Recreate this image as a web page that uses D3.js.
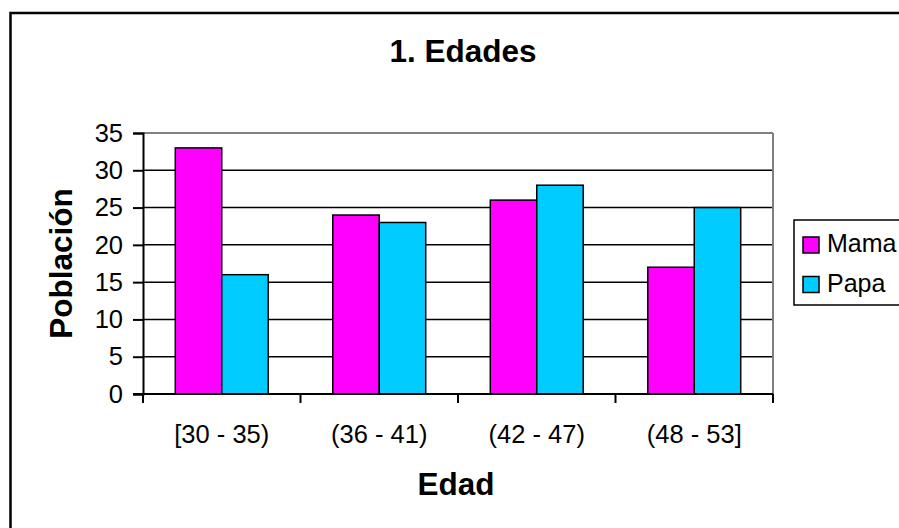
<!DOCTYPE html>
<html>
<head>
<meta charset="utf-8">
<script src="https://cdn.jsdelivr.net/npm/d3@7"></script>
<style>
  html, body { margin: 0; padding: 0; background: #fff; }
  svg { display: block; font-family: "Liberation Sans", Arial, sans-serif; }
</style>
</head>
<body>
<svg id="chart" width="899" height="528"></svg>
<script>
const categories = ["[30 - 35)", "(36 - 41)", "(42 - 47)", "(48 - 53]"];
const seriesNames = ["Mama", "Papa"];
const mamaValues = [33, 24, 26, 17];
const papaValues = [16, 23, 28, 25];
const yTicks = [0, 5, 10, 15, 20, 25, 30, 35];
const colors = ["#FF00FF", "#00CCFF"];
const titleText = "1. Edades";
const xTitle = "Edad";
const yTitle = "Población";

const svg = d3.select("#chart");
const W = 899, H = 528;
const plot = { left: 143, right: 773, top: 133, bottom: 394 };

// outer chart border
svg.append("rect").attr("x", 10.5).attr("y", 13).attr("width", W + 20).attr("height", H + 20)
  .attr("fill", "#fff").attr("stroke", "#000").attr("stroke-width", 2.5);

const x0 = d3.scaleBand().domain(categories).range([plot.left, plot.right]).padding(0);
const step = x0.bandwidth();
const gap = step * 0.205;
const x1 = d3.scaleBand().domain(seriesNames).range([gap, step - gap]).padding(0);
const y = d3.scaleLinear().domain([0, 35]).range([plot.bottom, plot.top]);

// gridlines
svg.append("g").selectAll("line").data(yTicks.filter(t => t > 0 && t < 35)).join("line")
  .attr("x1", plot.left).attr("x2", plot.right)
  .attr("y1", d => y(d)).attr("y2", d => y(d))
  .attr("stroke", "#000").attr("stroke-width", 1.5);

// plot area border (top and right gray)
svg.append("line").attr("x1", plot.left).attr("x2", plot.right).attr("y1", y(35)).attr("y2", y(35))
  .attr("stroke", "#808080").attr("stroke-width", 2);
svg.append("line").attr("x1", plot.right).attr("x2", plot.right).attr("y1", plot.top).attr("y2", plot.bottom)
  .attr("stroke", "#808080").attr("stroke-width", 2);

// bars
const data = categories.map((c, i) => ({ cat: c, vals: [mamaValues[i], papaValues[i]] }));
const groups = svg.append("g").selectAll("g").data(data).join("g")
  .attr("transform", d => `translate(${x0(d.cat)},0)`);
groups.selectAll("rect").data(d => d.vals.map((v, j) => ({ s: seriesNames[j], v, j }))).join("rect")
  .attr("x", d => x1(d.s)).attr("width", x1.bandwidth())
  .attr("y", d => y(d.v)).attr("height", d => y(0) - y(d.v))
  .attr("fill", d => colors[d.j]).attr("stroke", "#000").attr("stroke-width", 1.5);

// y axis
const yAxis = d3.axisLeft(y).tickValues(yTicks).tickSize(10).tickPadding(10).tickFormat(d3.format("d"));
const gy = svg.append("g").attr("transform", `translate(${plot.left},0)`).call(yAxis);
gy.select(".domain").attr("stroke", "#000").attr("stroke-width", 2);
gy.selectAll(".tick line").attr("stroke", "#000").attr("stroke-width", 2);
gy.selectAll(".tick text").attr("font-size", 25.5).attr("fill", "#000")
  .attr("font-family", "'Liberation Sans', Arial, sans-serif");

// x axis
const xAxis = d3.axisBottom(x0).tickSize(0).tickPadding(31);
const gx = svg.append("g").attr("transform", `translate(0,${plot.bottom})`).call(xAxis);
gx.select(".domain").remove();
gx.append("line").attr("x1", plot.left - 10).attr("x2", plot.right).attr("y1", 0).attr("y2", 0)
  .attr("stroke", "#000").attr("stroke-width", 2);
gx.selectAll(".tick text").attr("font-size", 25.5).attr("fill", "#000")
  .attr("font-family", "'Liberation Sans', Arial, sans-serif");
const boundaries = categories.map(c => x0(c)).concat([x0(categories[categories.length - 1]) + step]);
gx.selectAll(".bnd").data(boundaries).join("line").attr("class", "bnd")
  .attr("x1", d => d).attr("x2", d => d).attr("y1", 0).attr("y2", 9)
  .attr("stroke", "#000").attr("stroke-width", 2);

// titles
svg.append("text").attr("x", 463).attr("y", 62).attr("text-anchor", "middle")
  .attr("font-size", 31.5).attr("font-weight", "bold").text(titleText);
svg.append("text").attr("x", 456).attr("y", 495).attr("text-anchor", "middle")
  .attr("font-size", 31.5).attr("font-weight", "bold").text(xTitle);
svg.append("text").attr("transform", `translate(72,${(plot.top + plot.bottom) / 2}) rotate(-90)`)
  .attr("text-anchor", "middle").attr("font-size", 31.5).attr("font-weight", "bold").text(yTitle);

// legend
const lg = svg.append("g");
lg.append("rect").attr("x", 794).attr("y", 220).attr("width", 140).attr("height", 85)
  .attr("fill", "#fff").attr("stroke", "#000").attr("stroke-width", 1.5);
const items = lg.selectAll("g.item").data(seriesNames).join("g").attr("class", "item")
  .attr("transform", (d, i) => `translate(803,${237 + i * 39.5})`);
items.append("rect").attr("width", 16).attr("height", 16)
  .attr("fill", (d, i) => colors[i]).attr("stroke", "#000").attr("stroke-width", 1.5);
items.append("text").attr("x", 24).attr("y", 15).attr("font-size", 25).text(d => d);
</script>
</body>
</html>
